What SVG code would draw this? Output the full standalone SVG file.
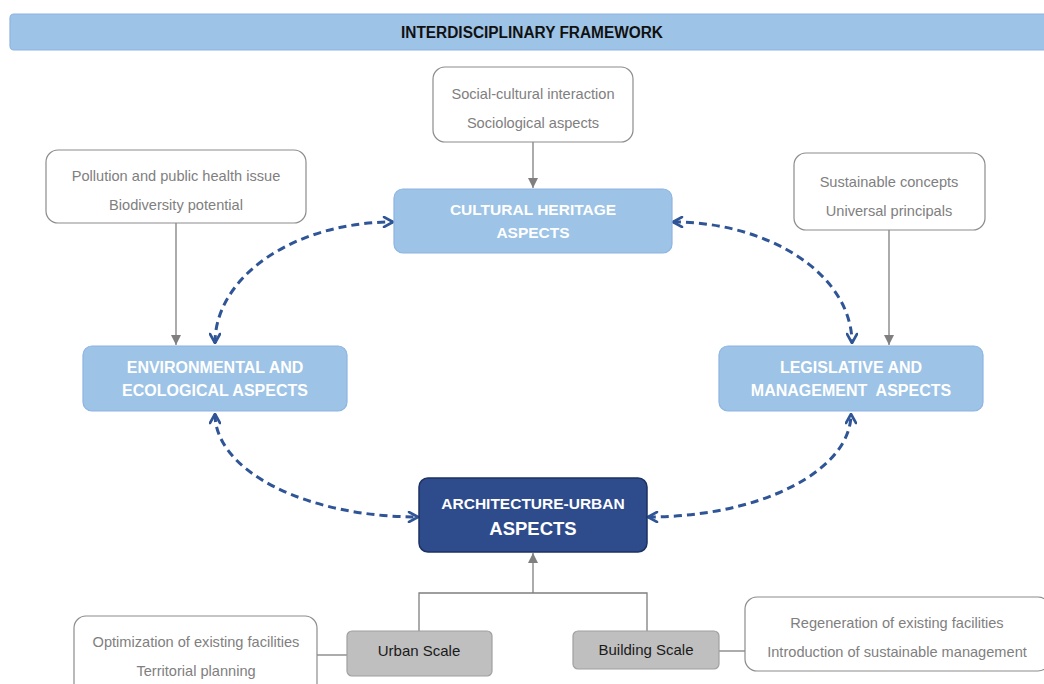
<svg xmlns="http://www.w3.org/2000/svg" width="1044" height="684" viewBox="0 0 1044 684">
<defs>
<style>
.blue{fill:#9DC3E6;stroke:#8EB4E3;stroke-width:1.2}
.dark{fill:#2E4B8C;stroke:#1C3263;stroke-width:1.5}
.note{fill:#FFFFFF;stroke:#8C8C8C;stroke-width:1.2}
.scale{fill:#BFBFBF;stroke:#A0A0A0;stroke-width:1.2}
.wt{font-family:"Liberation Sans",Arial,sans-serif;font-weight:bold;fill:#FFFFFF;text-anchor:middle}
.gt{font-family:"Liberation Sans",Arial,sans-serif;fill:#808080;font-size:14.6px;text-anchor:middle}
.bt{font-family:"Liberation Sans",Arial,sans-serif;fill:#1A1A1A;font-size:15px;text-anchor:middle}
.dash{fill:none;stroke:#2F5597;stroke-width:3;stroke-dasharray:8 5;marker-start:url(#chev);marker-end:url(#chev)}
.gray{fill:none;stroke:#7F7F7F;stroke-width:1.3}
.garr{marker-end:url(#tri)}
</style>
<marker id="chev" viewBox="0 0 12 12" refX="11" refY="6" markerWidth="12" markerHeight="12" markerUnits="userSpaceOnUse" orient="auto-start-reverse">
<path d="M2 1 L11 6 L2 11" fill="none" stroke="#2F5597" stroke-width="2.6" stroke-linecap="round" stroke-linejoin="round"/>
</marker>
<marker id="tri" viewBox="0 0 10 10" refX="10" refY="5" markerWidth="10" markerHeight="10" markerUnits="userSpaceOnUse" orient="auto">
<path d="M0 0 L10 5 L0 10 Z" fill="#7F7F7F"/>
</marker>
</defs>
<rect x="0" y="0" width="1044" height="684" fill="#FFFFFF"/>

<g id="header">
<rect class="blue" x="10" y="14" width="1040" height="36" rx="4"/>
<text x="532" y="38" font-family="Liberation Sans,Arial,sans-serif" font-weight="bold" font-size="16" fill="#111111" text-anchor="middle" textLength="262" lengthAdjust="spacingAndGlyphs">INTERDISCIPLINARY FRAMEWORK</text>
</g>

<g id="connectors">
<path class="dash" d="M215 343 A178 121 0 0 1 393 222"/>
<path class="dash" d="M673 222 A179 121 0 0 1 852 343"/>
<path class="dash" d="M215 414 A203 103 0 0 0 418 517"/>
<path class="dash" d="M648 517 A203 103 0 0 0 851 414"/>
<path class="gray garr" d="M533 142 L533 188"/>
<path class="gray garr" d="M176 223 L176 345"/>
<path class="gray garr" d="M889 230 L889 345"/>
<path class="gray" d="M419 631 L419 593 L647 593 L647 631"/>
<path class="gray garr" d="M533 593 L533 553"/>
<path class="gray" d="M317 655 L347 655"/>
<path class="gray" d="M719 651 L745 651"/>
</g>

<g id="cultural">
<rect class="blue" x="394" y="189" width="278" height="64" rx="9"/>
<text class="wt" x="533" y="215" font-size="15.5">CULTURAL HERITAGE</text>
<text class="wt" x="533" y="238" font-size="15.5">ASPECTS</text>
</g>

<g id="environmental">
<rect class="blue" x="83" y="346" width="264" height="65" rx="9"/>
<text class="wt" x="215" y="373" font-size="16">ENVIRONMENTAL AND</text>
<text class="wt" x="215" y="396" font-size="16">ECOLOGICAL ASPECTS</text>
</g>

<g id="legislative">
<rect class="blue" x="719" y="346" width="264" height="65" rx="9"/>
<text class="wt" x="851" y="373" font-size="16">LEGISLATIVE AND</text>
<text class="wt" x="851" y="396" font-size="16" xml:space="preserve">MANAGEMENT  ASPECTS</text>
</g>

<g id="architecture">
<rect class="dark" x="419" y="478" width="228" height="74" rx="9"/>
<text class="wt" x="533" y="509" font-size="15.5">ARCHITECTURE-URBAN</text>
<text class="wt" x="533" y="535" font-size="18.5">ASPECTS</text>
</g>

<g id="social">
<rect class="note" x="433" y="67" width="200" height="75" rx="12"/>
<text class="gt" x="533" y="99">Social-cultural interaction</text>
<text class="gt" x="533" y="128">Sociological aspects</text>
</g>

<g id="pollution">
<rect class="note" x="46" y="150" width="260" height="73" rx="12"/>
<text class="gt" x="176" y="181">Pollution and public health issue</text>
<text class="gt" x="176" y="210">Biodiversity potential</text>
</g>

<g id="sustainable">
<rect class="note" x="794" y="153" width="191" height="77" rx="12"/>
<text class="gt" x="889" y="187">Sustainable concepts</text>
<text class="gt" x="889" y="216">Universal principals</text>
</g>

<g id="urban-scale">
<rect class="scale" x="347" y="631" width="145" height="45" rx="5"/>
<text class="bt" x="419" y="656">Urban Scale</text>
</g>

<g id="building-scale">
<rect class="scale" x="573" y="631" width="146" height="38" rx="5"/>
<text class="bt" x="646" y="655">Building Scale</text>
</g>

<g id="optimization">
<rect class="note" x="74" y="616" width="243" height="80" rx="12"/>
<text class="gt" x="196" y="647">Optimization of existing facilities</text>
<text class="gt" x="196" y="676">Territorial planning</text>
</g>

<g id="regeneration">
<rect class="note" x="745" y="597" width="305" height="74" rx="12"/>
<text class="gt" x="897" y="628">Regeneration of existing facilities</text>
<text class="gt" x="897" y="657">Introduction of sustainable management</text>
</g>
</svg>
